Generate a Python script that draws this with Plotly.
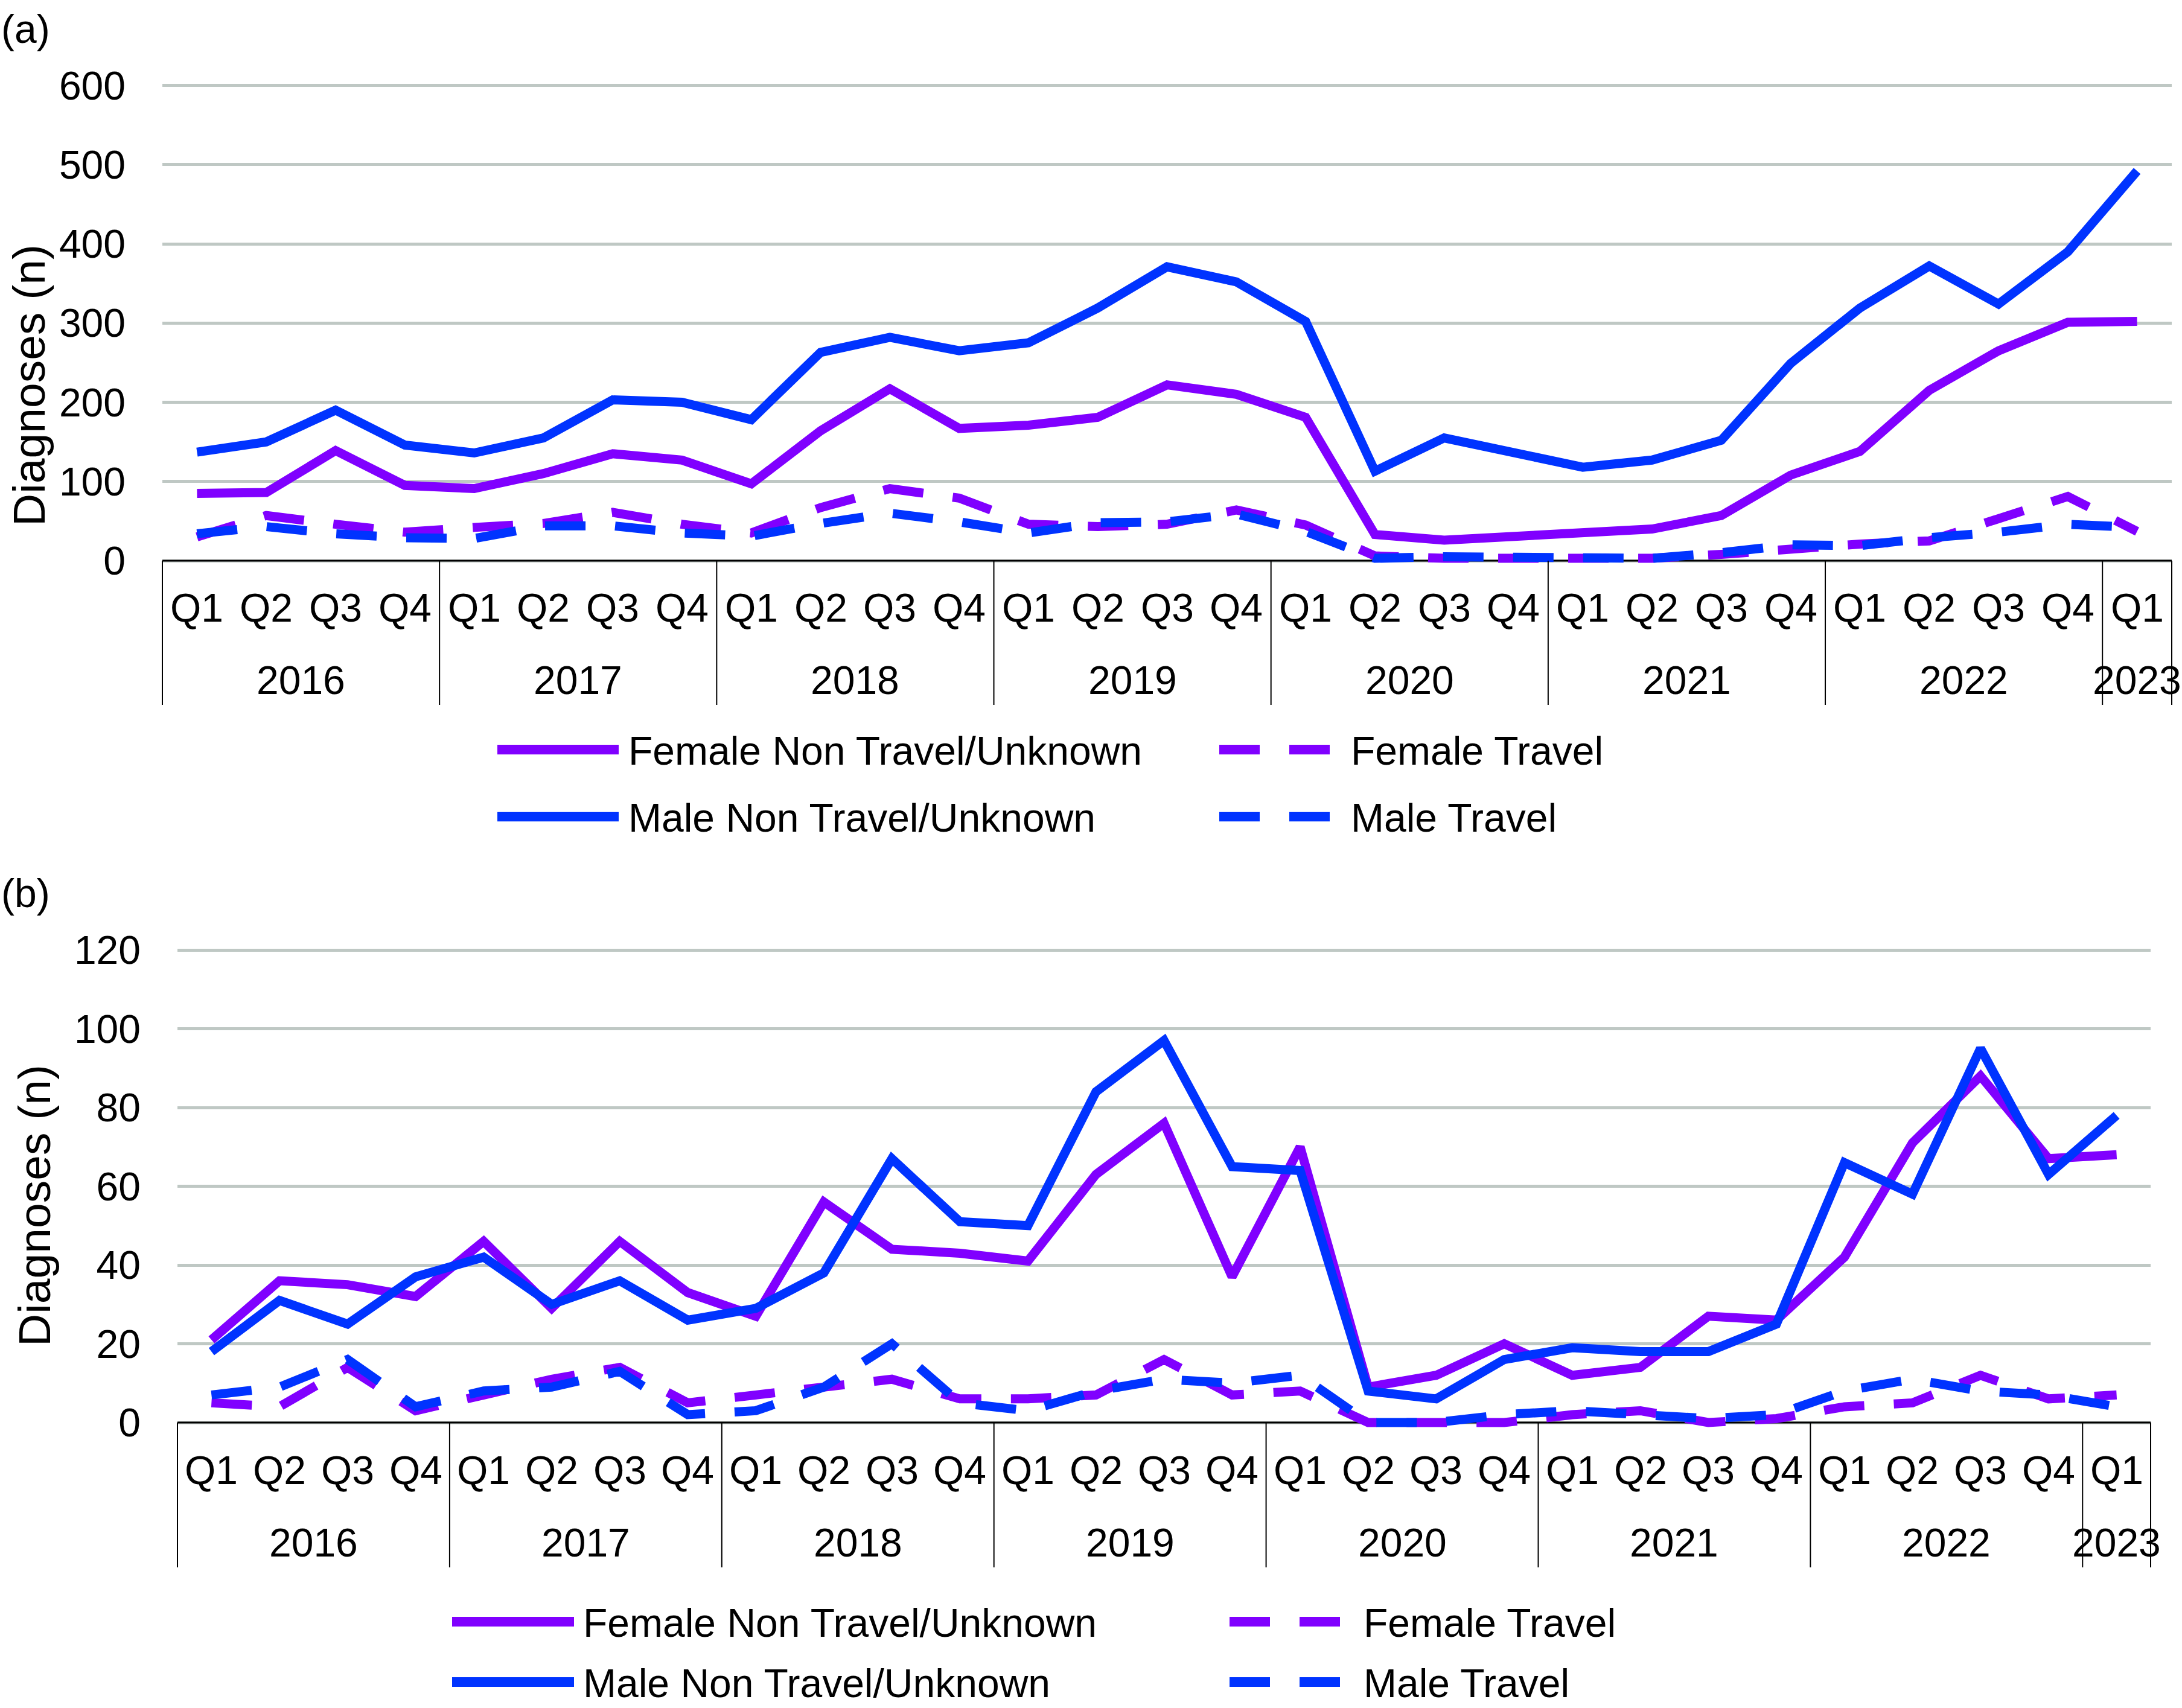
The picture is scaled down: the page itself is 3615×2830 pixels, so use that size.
import plotly.graph_objects as go

W, H = 3615, 2830
FONT = "Liberation Sans"
PURPLE = "#8000FF"
BLUE = "#0033FF"
GRID = "#BFC8C4"

# categories
years = ["2016", "2017", "2018", "2019", "2020", "2021", "2022", "2023"]
quarters = ["Q1", "Q2", "Q3", "Q4"]
quarters_per_year = [4, 4, 4, 4, 4, 4, 4, 1]

series_names = ["Female Non Travel/Unknown", "Female Travel",
                "Male Non Travel/Unknown", "Male Travel"]

# panel (a)
a_female_non = [85, 86, 139, 95, 91, 110, 135, 127, 97, 164, 217, 167, 171, 181, 222, 210,
                181, 33, 26, 31, 37, 40, 57, 108, 138, 215, 265, 301, 302]
a_female_travel = [30, 57, 46, 36, 42, 47, 61, 46, 35, 67, 91, 79, 46, 43, 46, 64,
                   45, 6, 3, 3, 4, 3, 8, 15, 21, 25, 52, 81, 37]
a_male_non = [137, 150, 190, 146, 136, 155, 203, 200, 178, 263, 282, 265, 275, 319, 371, 352,
              302, 113, 155, 137, 118, 127, 152, 249, 319, 372, 324, 390, 492]
a_male_travel = [34, 43, 34, 29, 28, 44, 44, 35, 31, 47, 60, 49, 35, 48, 49, 59,
                 37, 3, 5, 4, 3, 3, 10, 20, 19, 29, 36, 46, 42]
a_yticks = [0, 100, 200, 300, 400, 500, 600]

# panel (b)
b_female_non = [21, 36, 35, 32, 46, 29, 46, 33, 27, 56, 44, 43, 41, 63, 76, 37,
                70, 9, 12, 20, 12, 14, 27, 26, 42, 71, 88, 67, 68]
b_female_travel = [5, 4, 14, 3, 7, 11, 14, 5, 7, 9, 11, 6, 6, 7, 16, 7,
                   8, 0, 0, 0, 2, 3, 0, 1, 4, 5, 12, 6, 7]
b_male_non = [18, 31, 25, 37, 42, 30, 36, 26, 29, 38, 67, 51, 50, 84, 97, 65,
              64, 8, 6, 16, 19, 18, 18, 25, 66, 58, 95, 63, 78]
b_male_travel = [7, 9, 16, 4, 8, 9, 13, 2, 3, 9, 20, 5, 3, 8, 11, 10,
                 12, 0, 0, 2, 3, 2, 1, 2, 8, 11, 8, 7, 4]
b_yticks = [0, 20, 40, 60, 80, 100, 120]

periods, quarter_labels = [], []
for yr, n in zip(years, quarters_per_year):
    for q in quarters[:n]:
        periods.append(f"{yr} {q}")
        quarter_labels.append(q)
N = len(periods)

TXT_UP = -2  # small nudge of text boxes relative to measured glyph centres


def px_x(p):
    return p / W


def px_y(p):
    return 1 - p / H


# pixel layout of each panel
panels = [
    dict(tag="(a)", tag_y=48, left=269, right=3598, top=141.5, zero=929, pad=8,
         title_x=48, title_y=639, q_dy=76, y_dy=196, div_dy=239,
         leg_rows=(1242, 1353), leg_c1=(824, 1025, 1039), leg_c2=(2020, 2203, 2236),
         data=[a_female_non, a_female_travel, a_male_non, a_male_travel], ticks=a_yticks),
    dict(tag="(b)", tag_y=1480, left=294, right=3563, top=1574, zero=2357, pad=8,
         title_x=57, title_y=1998, q_dy=77, y_dy=197, div_dy=240,
         leg_rows=(2687, 2787), leg_c1=(749, 951, 964), leg_c2=(2037, 2222, 2257),
         data=[b_female_non, b_female_travel, b_male_non, b_male_travel], ticks=b_yticks),
]

styles = [(PURPLE, "solid"), (PURPLE, "67px,49px"), (BLUE, "solid"), (BLUE, "67px,49px")]

fig = go.Figure()
annotations, shapes = [], []
layout_axes = {}

for k, p in enumerate(panels):
    sfx = "" if k == 0 else str(k + 1)
    xa, ya = "x" + sfx, "y" + sfx
    ymax = p["ticks"][-1]
    unit = (p["zero"] - p["top"]) / ymax
    ymin = -p["pad"] / unit
    ytop = ymax + 6 / unit  # a little headroom so the top gridline is not clipped

    for vals, name, (col, dash) in zip(p["data"], series_names, styles):
        fig.add_trace(go.Scatter(x=periods, y=vals, mode="lines", name=name,
                                 line=dict(color=col, width=15, dash=dash),
                                 xaxis=xa, yaxis=ya, showlegend=False))

    layout_axes["xaxis" + sfx] = dict(
        domain=[px_x(p["left"]), px_x(p["right"])], anchor=ya, type="category",
        categoryorder="array", categoryarray=periods, range=[-0.5, N - 0.5],
        showgrid=False, showline=False, showticklabels=False, ticks="", zeroline=False,
        automargin=False)
    layout_axes["yaxis" + sfx] = dict(
        domain=[px_y(p["zero"] + p["pad"]), px_y(p["top"] - 6)], anchor=xa,
        range=[ymin, ytop], tickvals=p["ticks"], showgrid=True, gridcolor=GRID,
        gridwidth=5, zeroline=False, showline=False, ticks="", automargin=False,
        tickfont=dict(family=FONT, size=66, color="black"), ticklabelstandoff=60)

    # category axis line at zero
    shapes.append(dict(type="line", xref=xa, yref=ya, x0=-0.5, x1=N - 0.5, y0=0, y1=0,
                       line=dict(color="black", width=3), layer="between"))
    # group dividers
    bounds = [0]
    for n in quarters_per_year:
        bounds.append(bounds[-1] + n)
    dom = layout_axes["xaxis" + sfx]["domain"]
    for b in bounds:
        xb = dom[0] + (dom[1] - dom[0]) * b / N
        shapes.append(dict(type="line", xref="paper", yref="paper",
                           x0=xb, x1=xb, y0=px_y(p["zero"]),
                           y1=px_y(p["zero"] + p["div_dy"]),
                           line=dict(color="black", width=2)))
    # quarter labels
    for per, q in zip(periods, quarter_labels):
        annotations.append(dict(x=per, xref=xa, y=px_y(p["zero"] + p["q_dy"] - TXT_UP),
                                yref="paper", text=q, showarrow=False,
                                xanchor="center", yanchor="middle",
                                font=dict(family=FONT, size=66, color="black")))
    # year labels
    for i, (yr, n) in enumerate(zip(years, quarters_per_year)):
        annotations.append(dict(x=bounds[i] + (n - 1) / 2, xref=xa,
                                y=px_y(p["zero"] + p["y_dy"] - TXT_UP), yref="paper",
                                text=yr, showarrow=False, xanchor="center", yanchor="middle",
                                font=dict(family=FONT, size=66, color="black")))
    # axis title and panel tag
    annotations.append(dict(x=px_x(p["title_x"]), y=px_y(p["title_y"]), xref="paper",
                            yref="paper", text="Diagnoses (n)", textangle=-90,
                            showarrow=False, xanchor="center", yanchor="middle",
                            borderpad=0,
                            font=dict(family=FONT, size=75, color="black")))
    annotations.append(dict(x=0, y=px_y(p["tag_y"]), xref="paper", yref="paper",
                            text=p["tag"], showarrow=False, xanchor="left", yanchor="middle",
                            font=dict(family=FONT, size=66, color="black")))

    # legend (2 x 2)
    cells = [(p["leg_rows"][0], p["leg_c1"]), (p["leg_rows"][0], p["leg_c2"]),
             (p["leg_rows"][1], p["leg_c1"]), (p["leg_rows"][1], p["leg_c2"])]
    for (row, (x0, x1, xt)), name, (col, dash) in zip(cells, series_names, styles):
        shapes.append(dict(type="line", xref="paper", yref="paper",
                           x0=px_x(x0), x1=px_x(x1), y0=px_y(row), y1=px_y(row),
                           line=dict(color=col, width=16, dash=dash)))
        annotations.append(dict(x=px_x(xt), y=px_y(row - TXT_UP), xref="paper", yref="paper",
                                text=name, showarrow=False, xanchor="left", yanchor="middle",
                                font=dict(family=FONT, size=66, color="black")))

fig.update_layout(
    width=W, height=H,
    margin=dict(l=0, r=0, t=0, b=0, autoexpand=False),
    paper_bgcolor="white", plot_bgcolor="white",
    font=dict(family=FONT, size=66, color="black"),
    showlegend=False,
    annotations=annotations,
    shapes=shapes,
    **layout_axes,
)

# drop the browser's default body margin so the figure sits at the page corner
fig.write_html("out.html", config={"displayModeBar": False},
               post_script="document.body.style.margin='0px';")
